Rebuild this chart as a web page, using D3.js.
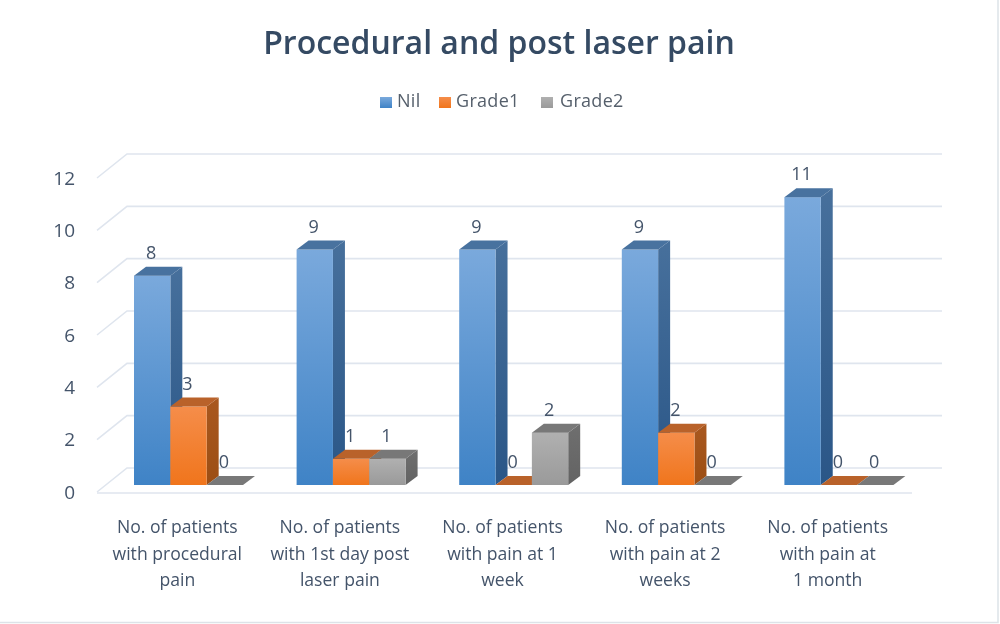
<!DOCTYPE html>
<html><head><meta charset="utf-8">
<script src="https://cdnjs.cloudflare.com/ajax/libs/d3/7.8.5/d3.min.js"></script>
<style>
html,body{margin:0;padding:0;background:#fff;}
svg{display:block;filter:blur(0.55px);}
text{font-family:"Open Sans","Noto Sans",sans-serif;}
</style></head><body><svg id="c" width="1000" height="624"></svg>
<script>
const categories = [
  ["No. of patients","with procedural","pain"],
  ["No. of patients","with 1st day post","laser pain"],
  ["No. of patients","with pain at 1","week"],
  ["No. of patients","with pain at 2","weeks"],
  ["No. of patients","with pain at","1 month"]
];
const seriesNames = ["Nil","Grade1","Grade2"];
const nil = [8,9,9,9,11];
const grade1 = [3,1,0,2,0];
const grade2 = [0,1,2,0,0];
const yTicks = [0,2,4,6,8,10,12];
const palette = {
  Nil:{top:"#7aa9dc",bottom:"#3f83c6",side:"#47709c",sideB:"#2a5687",cap:"#48729f"},
  Grade1:{top:"#f58d4a",bottom:"#f0751c",side:"#a9581f",sideB:"#9c4e14",cap:"#b9622a"},
  Grade2:{top:"#b0b0b0",bottom:"#9a9a9a",side:"#6f6f6f",sideB:"#636363",cap:"#787878"}
};
const values = [nil,grade1,grade2];
const svg = d3.select("#c");
const textCol = "#44546a";

svg.append("rect").attr("x",-2).attr("y",-2).attr("width",1000).attr("height",624.5)
  .attr("fill","#fff").attr("stroke","#dde3e8").attr("stroke-width",1.5);

const defs = svg.append("defs");
seriesNames.forEach((s,i)=>{
  const p = palette[s];
  const g = defs.append("linearGradient").attr("id","f"+i).attr("x1",0).attr("y1",0).attr("x2",0).attr("y2",1);
  g.append("stop").attr("offset",0).attr("stop-color",p.top);
  g.append("stop").attr("offset",1).attr("stop-color",p.bottom);
  const h = defs.append("linearGradient").attr("id","s"+i).attr("x1",0).attr("y1",0).attr("x2",0).attr("y2",1);
  h.append("stop").attr("offset",0).attr("stop-color",p.side);
  h.append("stop").attr("offset",1).attr("stop-color",p.sideB);
});

const y = d3.scaleLinear().domain([0,12]).range([492,178]);
const x = d3.scaleBand().domain(d3.range(categories.length)).range([107,920]);
const inner = d3.scaleBand().domain(seriesNames).range([27,136]);
const wall = {left:97,dx:30,dy:24,right:912};
const bar = {dx:12,dy:9,lift:7};

// wall + floor gridlines
const grid = svg.append("g").attr("fill","none").attr("stroke","#dfe5ee").attr("stroke-width",1.6);
yTicks.forEach(t=>{
  grid.append("path").attr("d",
    `M${wall.left},${y(t)}L${wall.left+wall.dx},${y(t)-wall.dy}H${wall.right+wall.dx}`);
});
grid.append("path").attr("d",`M${wall.left},${y(0)+1}H${wall.right}`);

// y axis labels
const yAxis = d3.axisLeft(y).tickValues(yTicks).tickSize(0).tickPadding(0);
const ga = svg.append("g").attr("transform","translate(75,0)").call(yAxis);
ga.select(".domain").remove();
ga.selectAll("text").attr("font-size",19).attr("fill",textCol).attr("font-family",'"Open Sans",sans-serif');

// bars
seriesNames.forEach((s,si)=>{
  const g = svg.append("g");
  values[si].forEach((v,ci)=>{
    const x0 = x(ci)+inner(s), w = inner.bandwidth();
    const b = y(0)-bar.lift, t = y(v)-bar.lift;
    if(v>0){
      g.append("path").attr("fill",`url(#s${si})`).attr("d",
        `M${x0+w},${t}L${x0+w+bar.dx},${t-bar.dy}V${b-bar.dy}L${x0+w},${b}Z`);
      g.append("rect").attr("x",x0).attr("y",t).attr("width",w).attr("height",b-t).attr("fill",`url(#f${si})`);
    }
    g.append("path").attr("fill",palette[s].cap).attr("d",
      `M${x0},${t}L${x0+bar.dx},${t-bar.dy}H${x0+w+bar.dx}L${x0+w},${t}Z`);
  });
});

// data labels
seriesNames.forEach((s,si)=>{
  values[si].forEach((v,ci)=>{
    svg.append("text").attr("x",x(ci)+inner(s)+inner.bandwidth()/2-1)
      .attr("y",y(v)-bar.lift-17).attr("text-anchor","middle")
      .attr("font-size",18).attr("fill",textCol).text(v);
  });
});

// category labels
categories.forEach((lines,ci)=>{
  lines.forEach((l,li)=>{
    svg.append("text").attr("x",x(ci)+x.bandwidth()/2-11).attr("y",533+li*26.7)
      .attr("text-anchor","middle").attr("font-size",17.6).attr("fill",textCol).text(l);
  });
});

// title
svg.append("text").attr("x",499).attr("y",54).attr("text-anchor","middle")
  .attr("font-size",32).attr("font-weight",600).attr("fill","#354a63")
  .text("Procedural and post laser pain");

// legend
const legendX = [380,439,541], legendT = [397,456,560];
seriesNames.forEach((s,i)=>{
  svg.append("rect").attr("x",legendX[i]).attr("y",97).attr("width",12).attr("height",11)
    .attr("fill",`url(#f${i})`);
  svg.append("text").attr("x",legendT[i]).attr("y",107).attr("font-size",18)
    .attr("fill","#555f6b").attr("letter-spacing",0.3).text(s);
});
</script></body></html>
